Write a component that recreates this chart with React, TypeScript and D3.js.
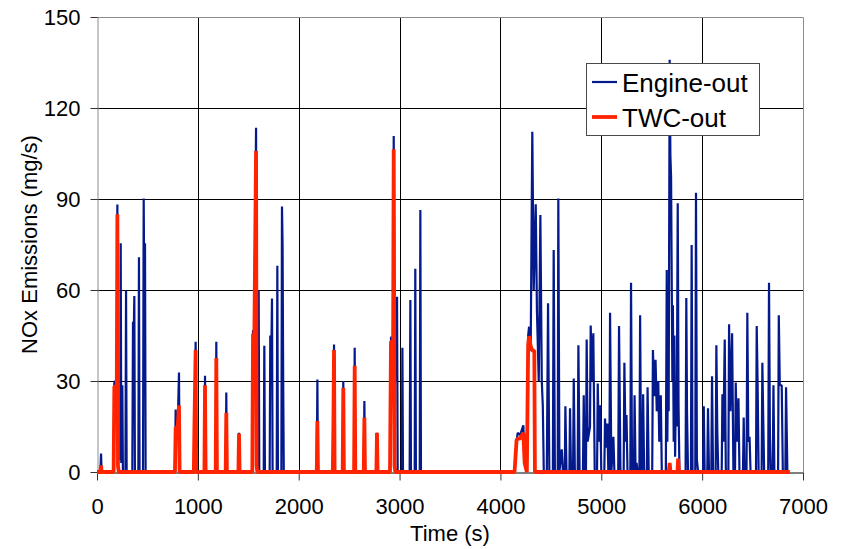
import React, { Component } from 'react';
import * as d3 from 'd3';

// engine-out NOx trace (s, mg/s)
const engineTime = [
  0, 34, 40, 46, 165, 172, 196, 202, 208, 230, 235, 241, 251, 257, 282, 288, 294,
  350, 357, 362, 370, 376, 410, 416, 422, 456, 463, 470, 476, 482,
  773, 780, 786, 800, 813, 819, 960, 966, 978, 984, 1065, 1071, 1077,
  1177, 1183, 1189, 1276, 1282, 1288, 1402, 1408, 1414,
  1540, 1547, 1560, 1577, 1583, 1590, 1597, 1603, 1609, 1653, 1659, 1665,
  1712, 1718, 1728, 1735, 1741, 1782, 1788, 1794, 1828, 1834, 1840, 1846, 1852,
  2179, 2185, 2191, 2344, 2350, 2356, 2436, 2442, 2448, 2549, 2555, 2561,
  2645, 2651, 2657, 2770, 2776, 2782, 2905, 2915, 2936, 2942, 2950, 2969, 2975, 2981,
  3022, 3028, 3034, 3100, 3107, 3113, 3150, 3156, 3162, 3200, 3206, 3212,
  4140, 4160, 4171, 4195, 4227, 4240, 4262, 4275, 4284, 4300, 4316, 4330, 4350, 4362,
  4380, 4396, 4410, 4420, 4430, 4460, 4472, 4485, 4520, 4528, 4540, 4568, 4574, 4585,
  4608, 4620, 4638, 4644, 4655, 4684, 4690, 4700, 4720, 4727, 4738, 4766, 4773, 4785,
  4818, 4826, 4835, 4848, 4855, 4865, 4888, 4895, 4910, 4921, 4935, 4958, 4965, 4975,
  4990, 5000, 5030, 5037, 5048, 5060, 5070, 5080, 5087, 5100, 5120, 5130, 5168, 5176,
  5190, 5222, 5229, 5240, 5250, 5260, 5288, 5295, 5305, 5324, 5330, 5340, 5350, 5360,
  5378, 5385, 5395, 5408, 5415, 5425, 5452, 5459, 5470, 5505, 5512, 5525, 5538, 5550,
  5565, 5575, 5590, 5600, 5640, 5649, 5655, 5662, 5668, 5678, 5685, 5692, 5699, 5705,
  5710, 5718, 5725, 5732, 5740, 5748, 5758, 5766, 5775, 5836, 5843, 5850, 5860,
  5889, 5896, 5905, 5932, 5939, 5948, 5960, 6009, 6016, 6025, 6051, 6058, 6068,
  6091, 6098, 6108, 6134, 6141, 6150, 6160, 6194, 6201, 6210, 6224, 6235,
  6260, 6267, 6280, 6297, 6310, 6326, 6333, 6345, 6360, 6370, 6405, 6412, 6420,
  6440, 6448, 6458, 6470, 6480, 6534, 6541, 6550, 6560, 6590, 6597, 6605, 6615,
  6655, 6663, 6672, 6680, 6700, 6707, 6716, 6753, 6760, 6770, 6789, 6800,
  6825, 6832, 6845, 6855
];
const engineNOx = [
  0, 0, 6.1, 0, 0, 30, 29, 88.2, 5, 4, 75.4, 3, 28.6, 0, 0, 59.8, 0,
  0, 49.5, 40, 58, 0, 0, 70.8, 0, 0, 90.2, 50, 75.4, 0,
  0, 20.6, 14, 15, 32.8, 0, 0, 15, 42.9, 0, 0, 31.7, 0,
  0, 42.9, 0, 0, 26.2, 0, 0, 12.9, 0,
  0, 46.8, 44, 113.5, 40, 0, 0, 59.8, 0, 0, 41.6, 0,
  0, 45, 38, 57.2, 0, 0, 68, 0, 0, 87.5, 75, 30, 0,
  0, 30.5, 0, 0, 42, 0, 0, 30, 0, 0, 41, 0,
  0, 23.4, 0, 0, 12.9, 0, 0, 44.6, 43, 110.8, 40, 30, 57.8, 0,
  0, 41, 0, 0, 56.7, 0, 0, 67, 0, 0, 86.4, 0,
  0, 10, 12.9, 12.2, 15.4, 5, 0, 45, 47.9, 40, 112.2, 60, 88.3, 53,
  30, 84.7, 30, 22, 0, 0, 55.6, 0, 0, 73.2, 0, 0, 90.2, 0,
  7.5, 0, 0, 21.7, 0, 0, 21, 0, 0, 30.8, 0, 0, 41.8, 0,
  0, 25.3, 0, 0, 43.7, 10, 15, 48.3, 30, 45.7, 0, 0, 29.2, 10,
  22, 0, 0, 17.6, 8, 16, 0, 0, 52.5, 0, 11.6, 0, 0, 48.1,
  0, 0, 36, 10, 18.8, 0, 0, 62.4, 0, 0, 25.3, 0, 3, 0,
  0, 51.7, 0, 0, 25.6, 0, 0, 27.9, 0, 0, 40.2, 25, 37, 20,
  30, 10, 25.3, 0, 0, 66.6, 10, 40, 20, 135.9, 104.5, 97.3, 60, 30,
  55, 10, 45, 5, 30, 15, 88.6, 22, 0, 0, 57.4, 20, 0,
  0, 74.8, 0, 0, 92.1, 4, 0, 0, 21.7, 0, 0, 21, 0,
  0, 31.6, 0, 0, 41.8, 14, 0, 0, 25.6, 10, 43.7, 0,
  0, 48.7, 20, 45.7, 0, 0, 29.5, 10, 24.3, 0, 0, 18, 0,
  0, 52.5, 10, 11.6, 0, 0, 48.1, 29, 0, 0, 36, 19, 0,
  0, 62.4, 12, 0, 0, 28.6, 0, 0, 51.7, 28.6, 28.6, 0,
  0, 27.9, 0, 0
];

// TWC-out NOx trace (s, mg/s)
const twcTime = [
  0, 34, 40, 46, 165, 172, 196, 202, 208, 216,
  773, 780, 800, 813, 819, 960, 966, 978, 984, 1065, 1071, 1077,
  1177, 1183, 1189, 1276, 1282, 1288, 1402, 1408, 1414,
  1540, 1547, 1560, 1577, 1583, 1590,
  2179, 2185, 2191, 2338, 2344, 2350, 2356, 2436, 2442, 2448, 2549, 2555, 2561,
  2645, 2651, 2657, 2770, 2776, 2782, 2905, 2915, 2936, 2942, 2950, 2958,
  4140, 4160, 4171, 4195, 4227, 4240, 4262, 4275, 4284, 4300, 4316, 4336, 4342,
  5670, 5678, 5686, 5755, 5762, 5770, 6870
];
const twcNOx = [
  0, 0, 2.2, 0, 0, 28.3, 28, 85, 2, 0,
  0, 14.5, 15, 22, 0, 0, 15, 40.2, 0, 0, 28.6, 0,
  0, 37.6, 0, 0, 19.5, 0, 0, 12.7, 0,
  0, 45.6, 44, 105.8, 2, 0,
  0, 16.8, 0, 0, 16, 40.2, 0, 0, 27.8, 0, 0, 35, 0,
  0, 18, 0, 0, 12.9, 0, 0, 42.9, 43, 106.4, 2, 0,
  0, 10.5, 11, 11, 12.9, 3, 0, 42, 44.8, 41.5, 40, 40, 0,
  0, 3, 0, 0, 4.4, 0, 0
];

const xTicks = [0, 1000, 2000, 3000, 4000, 5000, 6000, 7000];
const yTicks = [0, 30, 60, 90, 120, 150];
const seriesNames = ['Engine-out', 'TWC-out'];
const seriesColors = ['#04198c', '#ff2300'];

const FONT = '"Liberation Sans", Arial, sans-serif';

class Chart extends Component<any> {
  node: any;

  componentDidMount() {
    this.renderChart();
  }

  renderChart() {
    d3.select(this.node).selectAll('*').remove();
    const svg = d3.select(this.node).append('svg')
      .attr('width', 841).attr('height', 549)
      .style('display', 'block');

    const left = 97, right = 803, top = 17, bottom = 472;

    const x = d3.scaleLinear().domain([0, 7000]).range([left, right]);
    const y = d3.scaleLinear().domain([0, 150]).range([bottom, top]);

    // grid
    svg.append('g')
      .selectAll('line')
      .data(xTicks.slice(1, -1))
      .enter().append('line')
        .attr('x1', d => Math.round(x(d)) + 0.5).attr('x2', d => Math.round(x(d)) + 0.5)
        .attr('y1', top).attr('y2', bottom)
        .attr('stroke', '#000').attr('stroke-width', 1);
    svg.append('g')
      .selectAll('line')
      .data(yTicks.slice(1, -1))
      .enter().append('line')
        .attr('x1', left).attr('x2', right)
        .attr('y1', d => Math.round(y(d)) + 0.5).attr('y2', d => Math.round(y(d)) + 0.5)
        .attr('stroke', '#000').attr('stroke-width', 1);

    // top and right frame
    svg.append('path')
      .attr('d', `M${left},${top + 0.5}H${right + 0.5}V${bottom}`)
      .attr('fill', 'none').attr('stroke', '#8c8c8c').attr('stroke-width', 1);

    const yAxis = d3.axisLeft(y).tickValues(yTicks).tickSize(7).tickPadding(10).tickSizeOuter(0);
    const xAxis = d3.axisBottom(x).tickValues(xTicks).tickSize(8).tickPadding(18)
      .tickSizeOuter(0).tickFormat(d3.format('d'));

    const gy = svg.append('g')
      .attr('transform', `translate(${left + 0.5},0)`)
      .call(yAxis);
    gy.select('.domain').attr('stroke', '#8c8c8c');
    gy.selectAll('.tick line').attr('stroke', '#333');
    gy.selectAll('.tick text')
      .attr('font-family', FONT).attr('font-size', 22).attr('fill', '#000');

    const gx = svg.append('g')
      .attr('transform', `translate(0,${bottom + 0.5})`)
      .call(xAxis);
    gx.select('.domain').attr('stroke', '#000');
    gx.selectAll('.tick line').attr('stroke', '#333');
    gx.selectAll('.tick text')
      .attr('font-family', FONT).attr('font-size', 22).attr('fill', '#000');

    // series
    const engineLine = d3.line<number>()
      .x(d => x(engineTime[d]))
      .y(d => y(engineNOx[d]));
    const twcLine = d3.line<number>()
      .x(d => x(twcTime[d]))
      .y(d => y(twcNOx[d]));

    svg.append('path')
      .attr('d', engineLine(d3.range(engineTime.length)))
      .attr('fill', 'none')
      .attr('stroke', seriesColors[0])
      .attr('stroke-width', 2.2)
      .attr('stroke-linejoin', 'bevel');

    svg.append('path')
      .attr('d', twcLine(d3.range(twcTime.length)))
      .attr('fill', 'none')
      .attr('stroke', seriesColors[1])
      .attr('stroke-width', 3.8)
      .attr('stroke-linejoin', 'bevel');

    // axis titles
    svg.append('text')
      .attr('x', (left + right) / 2).attr('y', 541)
      .attr('text-anchor', 'middle')
      .attr('font-family', FONT).attr('font-size', 22)
      .text('Time (s)');
    svg.append('text')
      .attr('transform', `translate(37,${(top + bottom) / 2}) rotate(-90)`)
      .attr('text-anchor', 'middle')
      .attr('font-family', FONT).attr('font-size', 22)
      .text('NOx Emissions (mg/s)');

    // legend
    const legend = svg.append('g').attr('transform', 'translate(586,63)');
    legend.append('rect')
      .attr('x', 0.5).attr('y', 0.5).attr('width', 173).attr('height', 72)
      .attr('fill', '#fff').attr('stroke', '#4a4a4a').attr('stroke-width', 1);
    const items = legend.selectAll('g.item')
      .data(seriesNames)
      .enter().append('g')
        .attr('class', 'item')
        .attr('transform', (d, i) => `translate(0,${19 + i * 35})`);
    items.append('line')
      .attr('x1', 6).attr('x2', 31).attr('y1', 0).attr('y2', 0)
      .attr('stroke', (d, i) => seriesColors[i])
      .attr('stroke-width', (d, i) => i === 0 ? 2.2 : 3.8);
    items.append('text')
      .attr('x', 36).attr('y', 10)
      .attr('font-family', FONT).attr('font-size', 26)
      .text(d => d);
  }

  render() {
    return (
      <div
        ref={node => { this.node = node; }}
        style={{ position: 'absolute', left: 0, top: 0 }}
      ></div>
    );
  }
}

export default function App() {
  return <Chart />;
}
